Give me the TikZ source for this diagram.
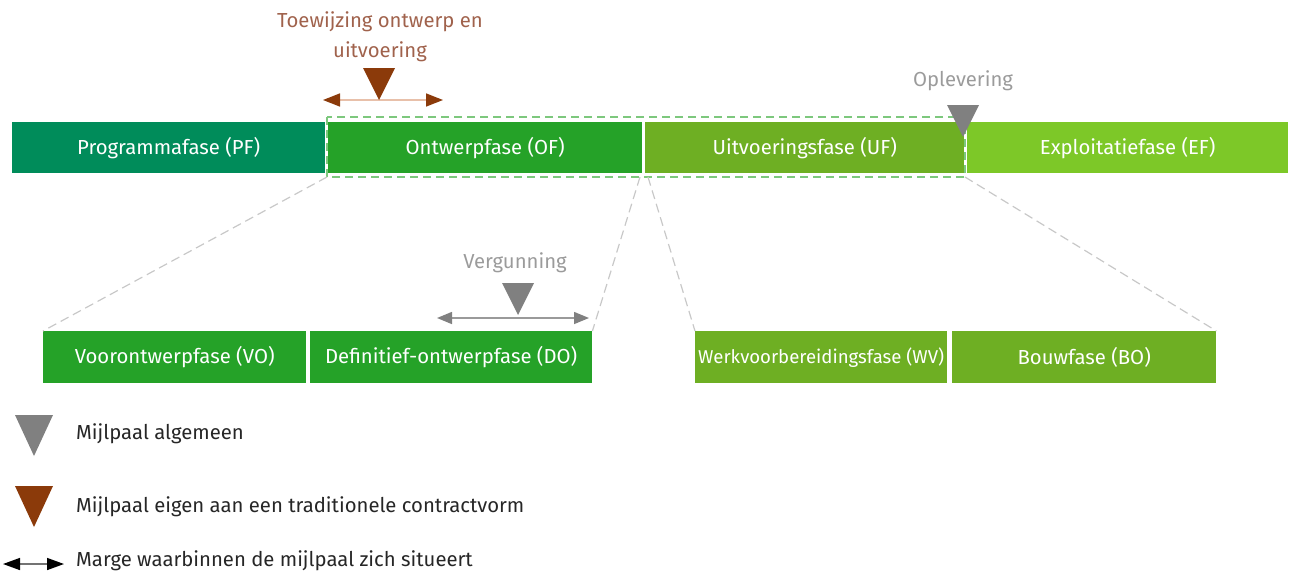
\documentclass[tikz,border=0pt]{standalone}
\usepackage{fontspec}
\setmainfont{Fira Sans}
\usetikzlibrary{arrows.meta}
\definecolor{pfgreen}{RGB}{0,140,90}
\definecolor{ofgreen}{RGB}{37,162,40}
\definecolor{ufgreen}{RGB}{110,175,35}
\definecolor{efgreen}{RGB}{125,200,40}
\definecolor{boxgreen}{RGB}{125,200,125}
\definecolor{guide}{RGB}{200,200,200}
\definecolor{msgray}{RGB}{128,128,128}
\definecolor{msbrown}{RGB}{139,58,10}
\definecolor{brtext}{RGB}{160,98,76}
\definecolor{graytext}{RGB}{155,155,155}
\definecolor{brline}{RGB}{232,192,170}
\tikzset{
  bar/.style={anchor=north west, inner sep=0pt, minimum height=51pt,
    text=white, font=\fontsize{20.3}{22}\selectfont},
  guideline/.style={draw=guide, line width=1.2pt, dash pattern=on 9pt off 5pt},
  msbox/.style={draw=boxgreen, line width=1.2pt, dash pattern=on 8pt off 5pt},
  label/.style={inner sep=0pt, font=\fontsize{20.3}{22}\selectfont},
  legend/.style={anchor=west, inner sep=0pt, text=black!85,
    font=\fontsize{20.3}{22}\selectfont},
  mstone/.pic={\fill (-16,0) -- (16,0) -- (0,32) -- cycle;},
  bigstone/.pic={\fill (-19,0) -- (19,0) -- (0,41) -- cycle;},
}
\begin{document}
\begin{tikzpicture}[x=1pt, y=-1pt]
\useasboundingbox (0,0) rectangle (1293,574);

% main phases
\node[bar, fill=pfgreen, minimum width=313pt] (pf) at (12,122) {Programmafase (PF)};
\node[bar, fill=ofgreen, minimum width=314pt] (of) at (328,122) {Ontwerpfase (OF)};
\node[bar, fill=ufgreen, minimum width=319pt] (uf) at (645,122) {Uitvoeringsfase (UF)};
\node[bar, fill=efgreen, minimum width=321pt] (ef) at (967,122) {Exploitatiefase (EF)};

% sub-phases
\node[bar, fill=ofgreen, minimum width=263pt, minimum height=52pt] (vo) at (43,331) {Voorontwerpfase (VO)};
\node[bar, fill=ofgreen, minimum width=282pt, minimum height=52pt] (do) at (310,331) {Definitief-ontwerpfase (DO)};
\node[bar, fill=ufgreen, minimum width=252pt, minimum height=52pt,
  font=\fontsize{18.6}{20}\selectfont] (wv) at (695,331) {Werkvoorbereidingsfase (WV)};
\node[bar, fill=ufgreen, minimum width=264pt, minimum height=52pt] (bo) at (952,331) {Bouwfase (BO)};

% dashed frame around OF and UF
\draw[msbox] (327,117) rectangle (965,177);
\coordinate (fsw) at (327,177);
\coordinate (fse) at (965,177);
\coordinate (fmidl) at (640,177);
\coordinate (fmidr) at (648,177);

% zoom guides
\draw[guideline] (fsw) -- (vo.north west);
\draw[guideline] (fmidl) -- (do.north east);
\draw[guideline] (fmidr) -- (wv.north west);
\draw[guideline] (fse) -- (bo.north east);

% milestone: Toewijzing ontwerp en uitvoering
\node[label, text=brtext, align=center] (toew) at (380,37)
  {Toewijzing ontwerp en\\[8pt]uitvoering};
\coordinate (tl) at (323,100);
\coordinate (tr) at (443,100);
\draw[brline, line width=1.5pt,
  {Triangle[length=17pt, width=13pt, color=msbrown]}-{Triangle[length=17pt, width=13pt, color=msbrown]}]
  (tl) -- (tr);
\pic[msbrown] at (379,68) {mstone};

% milestone: Oplevering
\node[label, text=graytext] (opl) at (963,81) {Oplevering};
\pic[msgray] at (963,105) {mstone};

% milestone: Vergunning
\node[label, text=graytext] (verg) at (515,263) {Vergunning};
\coordinate (vl) at (437,318);
\coordinate (vr) at (589,318);
\draw[msgray!80, line width=1.5pt,
  {Triangle[length=15pt, width=12pt, color=msgray]}-{Triangle[length=15pt, width=12pt, color=msgray]}]
  (vl) -- (vr);
\pic[msgray] at (518,283) {mstone};

% legend
\pic[msgray] at (34,415) {bigstone};
\node[legend] (lg1) at (76,434) {Mijlpaal algemeen};
\pic[msbrown] at (34,486) {bigstone};
\node[legend] (lg2) at (76,507) {Mijlpaal eigen aan een traditionele contractvorm};
\coordinate (al) at (3,564);
\coordinate (ar) at (64,564);
\draw[black!55, line width=1.5pt,
  {Triangle[length=17pt, width=12pt, color=black]}-{Triangle[length=17pt, width=12pt, color=black]}]
  (al) -- (ar);
\node[legend] (lg3) at (76,561) {Marge waarbinnen de mijlpaal zich situeert};
\end{tikzpicture}
\end{document}
